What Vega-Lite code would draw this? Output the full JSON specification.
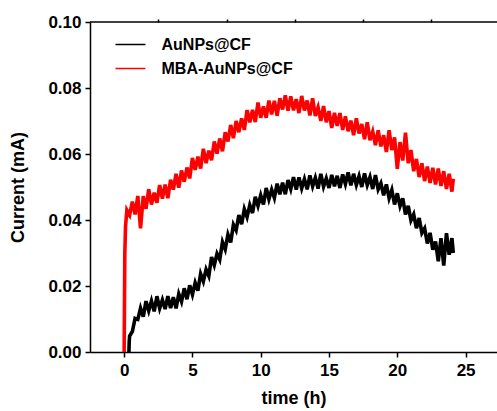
{
"$schema":"https://vega.github.io/schema/vega-lite/v6.json",
"width":407,"height":330,
"autosize":{"type":"none"},
"padding":{"left":90,"top":22,"right":0,"bottom":59},
"background":"white",
"config":{"view":{"stroke":null},"font":"Liberation Sans",
"axis":{"domainColor":"black","domainWidth":1.5,"tickColor":"black","tickWidth":1.5,"labelColor":"black","titleColor":"black","labelFont":"Liberation Sans","titleFont":"Liberation Sans","labelFontWeight":"bold","titleFontWeight":"bold","labelFontSize":17,"titleFontSize":18,"grid":false}},
"datasets":{"curr":[
{"t":0,"m":0},{"t":0.05,"m":0.03},{"t":0.1,"m":0.038},{"t":0.2,"m":0.043},
{"t":0.35,"a":0},{"t":0.37,"a":0.003},
{"t":0.4,"a":0.0048,"m":0.0415},{"t":0.6,"a":0.0062,"m":0.0456},{"t":0.8,"a":0.0102,"m":0.0417},
{"t":1.0,"a":0.0099,"m":0.0473},{"t":1.2,"a":0.0133,"m":0.0375},{"t":1.4,"a":0.0107,"m":0.0472},
{"t":1.6,"a":0.0154,"m":0.0434},{"t":1.8,"a":0.0125,"m":0.0493},{"t":2.0,"a":0.0155,"m":0.0447},
{"t":2.2,"a":0.0123,"m":0.0483},{"t":2.4,"a":0.0169,"m":0.0452},{"t":2.6,"a":0.0132,"m":0.0506},
{"t":2.8,"a":0.0158,"m":0.0465},{"t":3.0,"a":0.013,"m":0.0507},{"t":3.2,"a":0.0169,"m":0.0466},
{"t":3.4,"a":0.0133,"m":0.0522},{"t":3.6,"a":0.0166,"m":0.0492},{"t":3.8,"a":0.0132,"m":0.054},
{"t":4.0,"a":0.0176,"m":0.0498},{"t":4.2,"a":0.0153,"m":0.055},{"t":4.4,"a":0.0193,"m":0.0516},
{"t":4.6,"a":0.016,"m":0.0559},{"t":4.8,"a":0.0202,"m":0.0526},{"t":5.0,"a":0.0174,"m":0.0588},
{"t":5.2,"a":0.021,"m":0.0552},{"t":5.4,"a":0.0186,"m":0.0592},{"t":5.6,"a":0.0237,"m":0.0556},
{"t":5.8,"a":0.0214,"m":0.0616},{"t":6.0,"a":0.025,"m":0.0572},{"t":6.2,"a":0.023,"m":0.061},
{"t":6.4,"a":0.0288,"m":0.0581},{"t":6.6,"a":0.0263,"m":0.0638},{"t":6.8,"a":0.0298,"m":0.0601},
{"t":7.0,"a":0.028,"m":0.0647},{"t":7.2,"a":0.0333,"m":0.0608},{"t":7.4,"a":0.0311,"m":0.0666},
{"t":7.6,"a":0.0356,"m":0.0638},{"t":7.8,"a":0.0332,"m":0.0688},{"t":8.0,"a":0.0386,"m":0.0648},
{"t":8.2,"a":0.0369,"m":0.07},{"t":8.4,"a":0.0415,"m":0.0666},{"t":8.6,"a":0.0387,"m":0.0708},
{"t":8.8,"a":0.0433,"m":0.0673},{"t":9.0,"a":0.0409,"m":0.0733},{"t":9.2,"a":0.0445,"m":0.0696},
{"t":9.4,"a":0.0421,"m":0.0734},{"t":9.6,"a":0.047,"m":0.0697},{"t":9.8,"a":0.0443,"m":0.0756},
{"t":10.0,"a":0.0475,"m":0.071},{"t":10.2,"a":0.0447,"m":0.0744},{"t":10.4,"a":0.0497,"m":0.071},
{"t":10.6,"a":0.0463,"m":0.0762},{"t":10.8,"a":0.0492,"m":0.072},{"t":11.0,"a":0.0467,"m":0.0761},
{"t":11.2,"a":0.051,"m":0.0716},{"t":11.4,"a":0.0478,"m":0.0769},{"t":11.6,"a":0.0513,"m":0.0735},
{"t":11.8,"a":0.0478,"m":0.0778},{"t":12.0,"a":0.0521,"m":0.0731},{"t":12.2,"a":0.0494,"m":0.0775},
{"t":12.4,"a":0.053,"m":0.0732},{"t":12.6,"a":0.0492,"m":0.0766},{"t":12.8,"a":0.0529,"m":0.0724},
{"t":13.0,"a":0.0496,"m":0.0776},{"t":13.2,"a":0.0524,"m":0.0732},{"t":13.4,"a":0.0493,"m":0.0762},
{"t":13.6,"a":0.0535,"m":0.0717},{"t":13.8,"a":0.0502,"m":0.0769},{"t":14.0,"a":0.0528,"m":0.0715},
{"t":14.2,"a":0.0495,"m":0.0741},{"t":14.4,"a":0.054,"m":0.07},{"t":14.6,"a":0.0501,"m":0.0745},
{"t":14.8,"a":0.0526,"m":0.0696},{"t":15.0,"a":0.0497,"m":0.073},{"t":15.2,"a":0.0537,"m":0.0679},
{"t":15.4,"a":0.0502,"m":0.0725},{"t":15.6,"a":0.0534,"m":0.0685},{"t":15.8,"a":0.0497,"m":0.0724},
{"t":16.0,"a":0.0538,"m":0.0673},{"t":16.2,"a":0.0509,"m":0.0714},{"t":16.4,"a":0.0544,"m":0.0669},
{"t":16.6,"a":0.0505,"m":0.0701},{"t":16.8,"a":0.054,"m":0.0657},{"t":17.0,"a":0.0506,"m":0.0708},
{"t":17.2,"a":0.0533,"m":0.0662},{"t":17.4,"a":0.05,"m":0.0691},{"t":17.6,"a":0.0541,"m":0.0645},
{"t":17.8,"a":0.0506,"m":0.0696},{"t":18.0,"a":0.053,"m":0.0642},{"t":18.2,"a":0.0494,"m":0.0668},
{"t":18.4,"a":0.0536,"m":0.0627},{"t":18.6,"a":0.0493,"m":0.0672},{"t":18.8,"a":0.0511,"m":0.0623},
{"t":19.0,"a":0.0475,"m":0.0657},{"t":19.2,"a":0.0508,"m":0.0606},{"t":19.4,"a":0.0466,"m":0.0672},
{"t":19.6,"a":0.0491,"m":0.0612},{"t":19.8,"a":0.0447,"m":0.065},{"t":20.0,"a":0.0481,"m":0.0555},
{"t":20.2,"a":0.0442,"m":0.0636},{"t":20.4,"a":0.0466,"m":0.058},{"t":20.6,"a":0.0417,"m":0.0665},
{"t":20.8,"a":0.0443,"m":0.0572},{"t":21.0,"a":0.0399,"m":0.0612},{"t":21.2,"a":0.0417,"m":0.0548},
{"t":21.4,"a":0.0375,"m":0.0585},{"t":21.6,"a":0.0406,"m":0.053},{"t":21.8,"a":0.0361,"m":0.0572},
{"t":22.0,"a":0.0375,"m":0.0518},{"t":22.2,"a":0.0329,"m":0.0562},{"t":22.4,"a":0.0361,"m":0.0512},
{"t":22.6,"a":0.031,"m":0.0558},{"t":22.8,"a":0.0335,"m":0.0508},{"t":23.0,"a":0.0275,"m":0.0556},
{"t":23.2,"a":0.0345,"m":0.0503},{"t":23.4,"a":0.0262,"m":0.0548},{"t":23.6,"a":0.036,"m":0.0494},
{"t":23.8,"a":0.0295,"m":0.054},{"t":24.0,"a":0.0345,"m":0.0486},{"t":24.1,"a":0.03,"m":0.0525}
]},
"layer":[
{"data":{"name":"curr"},
 "transform":[{"fold":["a","m"],"as":["series","v"]},{"filter":"isValid(datum.v)"}],
 "mark":{"type":"line","strokeWidth":3.6},
 "encoding":{
  "x":{"field":"t","type":"quantitative","scale":{"domain":[-2.5,27.3],"nice":false,"zero":false},
       "axis":{"values":[0,5,10,15,20,25],"title":"time (h)","tickSize":5,"labelPadding":5,"titlePadding":11,"labelFlush":false}},
  "y":{"field":"v","type":"quantitative","scale":{"domain":[0,0.1],"nice":false,"zero":false},
       "axis":{"values":[0,0.02,0.04,0.06,0.08,0.1],"format":".2f","title":"Current (mA)","tickSize":5,"labelPadding":4,"titlePadding":20,"labelFlush":false}},
  "color":{"field":"series","type":"nominal","scale":{"domain":["a","m"],"range":["#000000","#ff0000"]},
   "legend":{"title":null,"orient":"none","legendX":32,"legendY":14,"symbolType":"M-2,0H2","symbolSize":225,"symbolStrokeWidth":1.5,"labelOffset":22.5,"rowPadding":7,
     "labelFont":"Liberation Sans","labelFontSize":16,"labelFontWeight":"bold","labelColor":"black",
     "labelExpr":"datum.label == 'a' ? 'AuNPs@CF' : 'MBA-AuNPs@CF'"}}
 }},
{"data":{"values":[{}]},
 "mark":{"type":"rule","color":"black","strokeWidth":1.5},
 "encoding":{"y":{"datum":0.1,"type":"quantitative","scale":{"domain":[0,0.1],"nice":false,"zero":false},
   "axis":{"values":[0.01,0.03,0.05,0.07,0.09],"labels":false,"domain":false,"tickSize":3,"title":null}}}},
{"data":{"values":[{}]},
 "mark":{"type":"rule","strokeOpacity":0},
 "encoding":{"x":{"datum":-2.5,"type":"quantitative","scale":{"domain":[-2.5,27.3],"nice":false,"zero":false},
   "axis":{"values":[2.5,7.5,12.5,17.5,22.5],"labels":false,"domain":false,"tickSize":3,"title":null}}}}
],
"resolve":{"axis":{"x":"independent","y":"independent"}}
}
